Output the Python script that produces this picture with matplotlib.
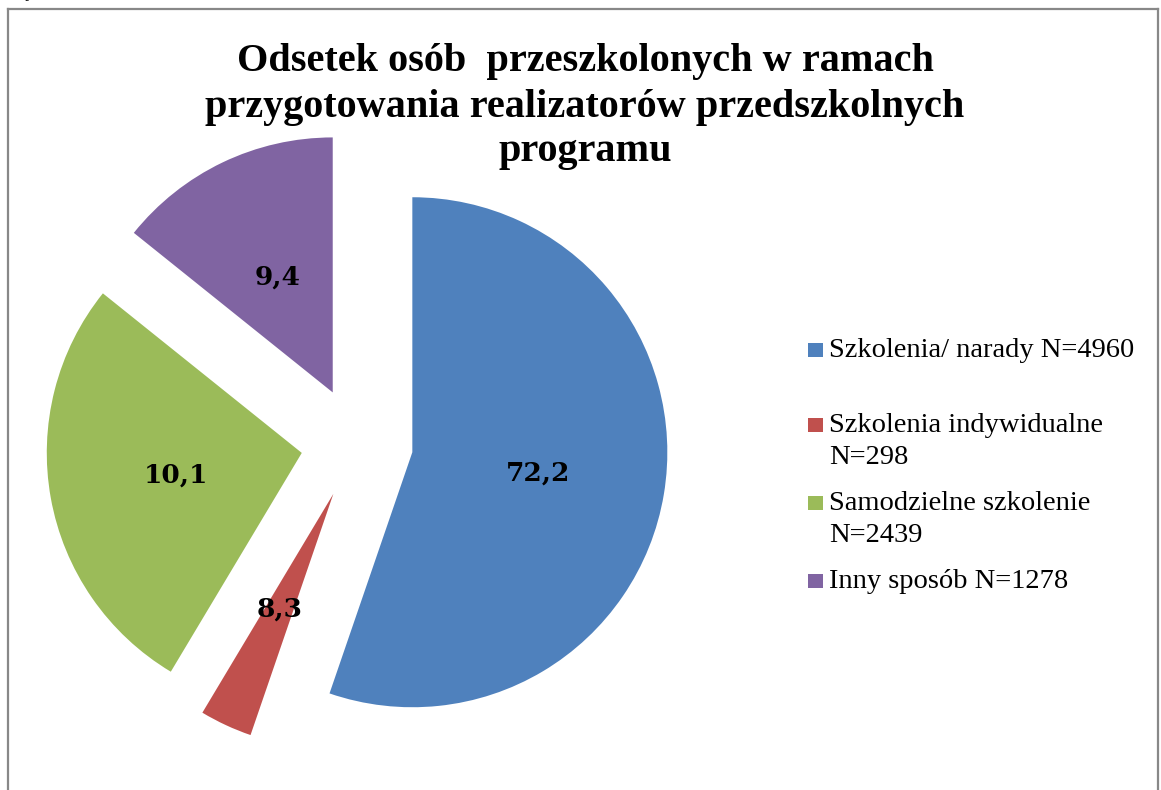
import matplotlib
matplotlib.use("Agg")
import matplotlib.pyplot as plt
from matplotlib.patches import Rectangle
from matplotlib.lines import Line2D

# ---- data ----
categories = ["Szkolenia/ narady N=4960",
              "Szkolenia indywidualne\nN=298",
              "Samodzielne szkolenie\nN=2439",
              "Inny sposób N=1278"]
counts = [4960, 298, 2439, 1278]
value_labels = ["72,2", "8,3", "10,1", "9,4"]
colors = ["#4F81BD", "#C0504D", "#9BBB59", "#8064A2"]
title = "Odsetek osób  przeszkolonych w ramach\nprzygotowania realizatorów przedszkolnych\nprogramu"

W, H = 1161, 790
fig = plt.figure(figsize=(W / 100, H / 100), dpi=100)

def fx(px):
    return px / W

def fy(py):
    return 1 - py / H

# frame of the chart area
for xs, ys in [((8, 8), (9, 800)), ((8, 1158), (9, 9)), ((1158, 1158), (9, 800))]:
    fig.add_artist(Line2D([fx(x) for x in xs], [fy(y) for y in ys],
                          color="#888888", lw=1.6, transform=fig.transFigure))

# pie: centre (357, 443) px, radius 255 px
cx, cy, R = 357, 443, 255
S = 700
ax = fig.add_axes([fx(cx - S / 2), fy(cy + S / 2), S / W, S / H])
wedges, texts, autotexts = ax.pie(
    counts, colors=colors, startangle=90, counterclock=False,
    explode=[0.22] * len(counts), radius=1.0,
    autopct=lambda p: "", pctdistance=0.5,
    wedgeprops=dict(linewidth=0))
for t, lab in zip(autotexts, value_labels):
    t.set_text(lab)
    t.set_fontfamily("DejaVu Serif")
    t.set_fontweight("bold")
    t.set_fontsize(19)
    t.set_color("black")
lim = (S / 2) / R
ax.set_xlim(-lim, lim)
ax.set_ylim(-lim, lim)
ax.set_aspect("equal")
ax.axis("off")

# title (one text per line, baselines matched)
title_baselines = [71, 117, 161]
for line, b in zip(title.split("\n"), title_baselines):
    fig.text(fx(585), fy(b), line, ha="center", va="baseline",
             fontfamily="Liberation Serif", fontweight="bold", fontsize=29)

# legend (manual)
first_baselines = [357, 432, 510, 588]
pitch = 32.5
for lab, col, b in zip(categories, colors, first_baselines):
    fig.add_artist(Rectangle((fx(808), fy(b)), 15 / W, 14 / H,
                             facecolor=col, edgecolor="none",
                             transform=fig.transFigure))
    for j, line in enumerate(lab.split("\n")):
        fig.text(fx(829), fy(b + j * pitch), line, ha="left", va="baseline",
                 fontfamily="Liberation Serif", fontsize=20.5, color="black")

# small cropped glyph at top-left (as in the reference)
fig.text(fx(20), fy(-3), "ę", ha="left", va="baseline",
         fontfamily="Liberation Serif", fontsize=14, color="black")

fig.savefig("out.png", dpi=100)
